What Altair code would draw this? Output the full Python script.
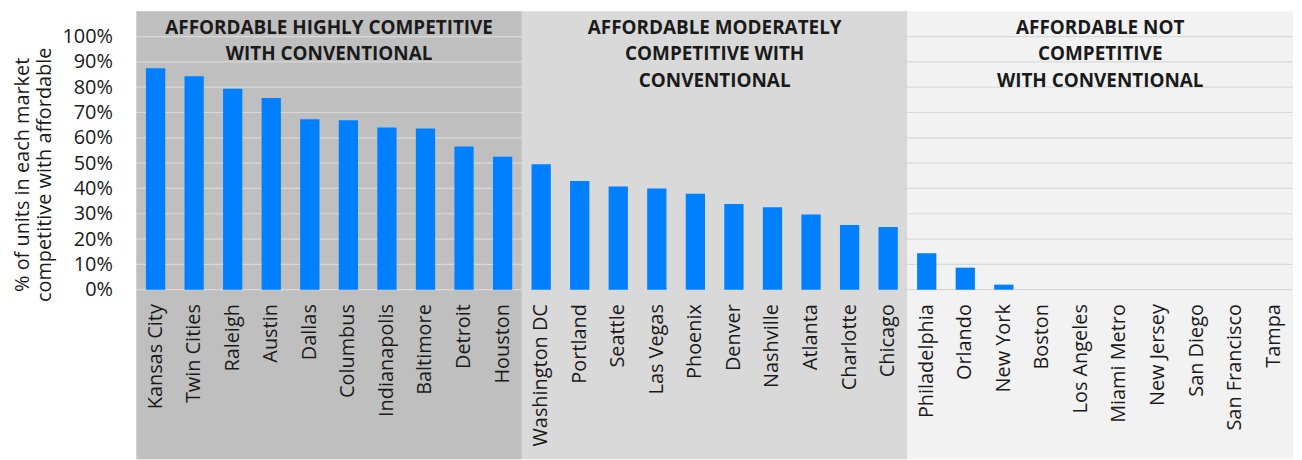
import altair as alt
import pandas as pd

cities = ["Kansas City", "Twin Cities", "Raleigh", "Austin", "Dallas", "Columbus",
          "Indianapolis", "Baltimore", "Detroit", "Houston", "Washington DC", "Portland",
          "Seattle", "Las Vegas", "Phoenix", "Denver", "Nashville", "Atlanta", "Charlotte",
          "Chicago", "Philadelphia", "Orlando", "New York", "Boston", "Los Angeles",
          "Miami Metro", "New Jersey", "San Diego", "San Francisco", "Tampa"]
shares = [0.875, 0.843, 0.794, 0.757, 0.673, 0.669, 0.641, 0.637, 0.566, 0.525,
          0.496, 0.429, 0.408, 0.400, 0.379, 0.339, 0.326, 0.297, 0.256, 0.248,
          0.144, 0.087, 0.020, 0.0, 0.0, 0.0, 0.0, 0.0, 0.0, 0.0]

region_titles = ["AFFORDABLE HIGHLY COMPETITIVE\nWITH CONVENTIONAL",
                 "AFFORDABLE MODERATELY\nCOMPETITIVE WITH\nCONVENTIONAL",
                 "AFFORDABLE NOT\nCOMPETITIVE\nWITH CONVENTIONAL"]
region_start = [0, 10, 20]
region_end = [10, 20, 30]
region_colors = ["#BFBFBF", "#D9D9D9", "#F2F2F2"]
region_top = [1.1, 1.1, 1.1]
region_bottom = [-0.67, -0.67, -0.67]

y_ticks = [0.0, 0.1, 0.2, 0.3, 0.4, 0.5, 0.6, 0.7, 0.8, 0.9, 1.0]
grid_values = [0.0, 0.1, 0.2, 0.3, 0.4, 0.5, 0.6, 0.7, 0.8, 0.9, 1.0]

FONT = "Open Sans"
TXT = "#1a1a1a"

bars_df = pd.DataFrame({"city": cities, "share": shares})
regions_df = pd.DataFrame({
    "title": region_titles, "start": region_start, "end": region_end,
    "mid": [(a + b) / 2 for a, b in zip(region_start, region_end)],
    "color": region_colors, "top": region_top, "bottom": region_bottom,
})
grid_df = pd.DataFrame({"g": grid_values})

yscale = alt.Scale(domain=[0, 1.1], nice=False, zero=False)
xq = alt.Scale(domain=[0, 30], nice=False, zero=False)

yaxis = alt.Axis(values=y_ticks, format=".0%", grid=False, domain=False, ticks=False,
                 tickSize=0, labelPadding=24, labelFontSize=20, labelFont=FONT,
                 labelColor=TXT,
                 title=["% of units in each market", "competitive with affordable"],
                 titleFont=FONT, titleFontSize=20, titleFontWeight="normal",
                 titleColor=TXT, titleX=-124, titleY=164, titleAlign="center",
                 titleBaseline="top", titleLineHeight=22, zindex=1)

rects = alt.Chart(regions_df).mark_rect(clip=False).encode(
    x=alt.X("start:Q", scale=xq, axis=None),
    x2="end:Q",
    y=alt.Y("top:Q", scale=yscale, axis=yaxis),
    y2="bottom:Q",
    color=alt.Color("color:N", scale=None, legend=None),
)

grid = alt.Chart(grid_df).mark_rule(color="#D9D9D9", strokeWidth=1.2).encode(
    y=alt.Y("g:Q", scale=yscale, axis=yaxis),
)

bars = alt.Chart(bars_df).mark_bar(color="#0080FF").encode(
    x=alt.X("city:N", sort=cities,
            scale=alt.Scale(paddingInner=0.5, paddingOuter=0.25),
            axis=alt.Axis(title=None, labelAngle=-90, labelAlign="right",
                          labelBaseline="middle", labelFontSize=20, labelFont=FONT,
                          labelColor=TXT, labelPadding=14, ticks=False, tickSize=0,
                          domain=False, grid=False, zindex=1)),
    y=alt.Y("share:Q", scale=yscale, axis=yaxis),
)

headings = alt.Chart(regions_df).mark_text(
    font=FONT, fontSize=19, fontWeight="bold", color=TXT,
    lineBreak="\n", lineHeight=26.5, baseline="top", align="center", dy=8,
).encode(
    x=alt.X("mid:Q", scale=xq, axis=None),
    y=alt.Y("top:Q", scale=yscale, axis=yaxis),
    text="title:N",
)

chart = alt.layer(rects, grid, bars, headings).resolve_scale(
    x="independent"
).properties(
    width=1163, height=280,
    padding={"left": 4, "top": 2, "right": 0, "bottom": 0},
).configure_view(stroke=None)

chart.save("out.html", embed_options={"renderer": "svg", "actions": False})
